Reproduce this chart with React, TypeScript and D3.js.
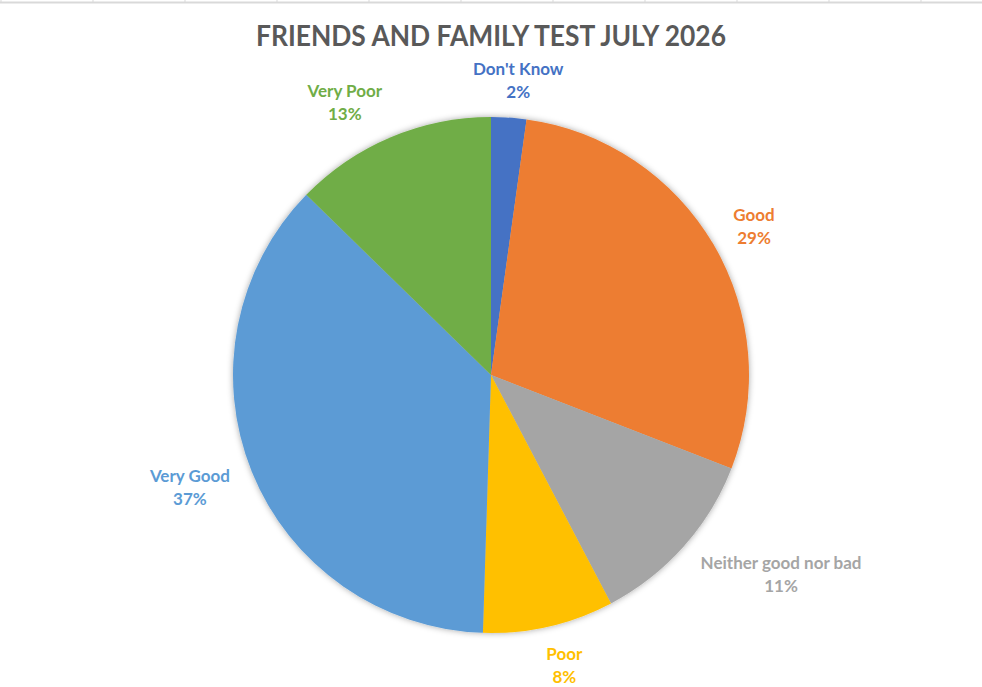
import React, { useEffect, useRef } from "react";
import * as d3 from "d3";

// slice order runs clockwise from 12 o'clock
const categories = ["Don't Know", "Good", "Neither good nor bad", "Poor", "Very Good", "Very Poor"];
const shares = [2.2, 28.7, 11.4, 8.2, 36.8, 12.7];
const sliceColors = ["#4472C4", "#ED7D31", "#A5A5A5", "#FFC000", "#5B9BD5", "#70AD47"];
const chartTitle = "FRIENDS AND FAMILY TEST JULY 2026";

const width = 982;
const height = 687;
const cx = 491;
const cy = 375;
const radius = 258;
const labelRadius = 281;
const fontStack = "Lato, 'Open Sans', 'DejaVu Sans', sans-serif";

const App: React.FC = () => {
  const svgRef = useRef<SVGSVGElement | null>(null);

  useEffect(() => {
    document.body.style.margin = "0";
    const svg = d3.select(svgRef.current).attr("width", width).attr("height", height);
    svg.selectAll("*").remove();

    svg.append("rect").attr("width", width).attr("height", height).attr("fill", "#ffffff");

    // spreadsheet cell borders peeking through at the top
    svg.append("rect").attr("x", 0).attr("y", 1.5).attr("width", width).attr("height", 2).attr("fill", "#d9d9d9");
    svg
      .append("g")
      .selectAll("line")
      .data(d3.range(1, width, 92))
      .enter()
      .append("line")
      .attr("x1", (d) => d)
      .attr("x2", (d) => d)
      .attr("y1", 0)
      .attr("y2", 2)
      .attr("stroke", "#d9d9d9");

    const defs = svg.append("defs");
    const shadow = defs
      .append("filter")
      .attr("id", "pieShadow")
      .attr("x", "-10%")
      .attr("y", "-10%")
      .attr("width", "120%")
      .attr("height", "120%");
    shadow
      .append("feDropShadow")
      .attr("dx", 0)
      .attr("dy", 0)
      .attr("stdDeviation", 3)
      .attr("flood-color", "#000")
      .attr("flood-opacity", 0.35);

    svg
      .append("text")
      .attr("x", cx)
      .attr("y", 46)
      .attr("text-anchor", "middle")
      .attr("font-family", fontStack)
      .attr("font-weight", "bold")
      .attr("font-size", 29)
      .attr("fill", "#595959")
      .attr("textLength", 470)
      .attr("lengthAdjust", "spacingAndGlyphs")
      .text(chartTitle);

    const data = categories.map((name, i) => ({ name, value: shares[i], color: sliceColors[i] }));
    const pie = d3
      .pie<{ name: string; value: number; color: string }>()
      .sort(null)
      .value((d) => d.value);
    const arcs = pie(data);
    const arc = d3
      .arc<d3.PieArcDatum<{ name: string; value: number; color: string }>>()
      .innerRadius(0)
      .outerRadius(radius);

    const g = svg.append("g").attr("transform", `translate(${cx},${cy})`);
    g.append("g")
      .attr("filter", "url(#pieShadow)")
      .selectAll("path")
      .data(arcs)
      .enter()
      .append("path")
      .attr("d", arc)
      .attr("fill", (d) => d.data.color);

    const total = d3.sum(shares);
    const labels = g
      .selectAll(".label")
      .data(arcs)
      .enter()
      .append("text")
      .attr("class", "label")
      .attr("font-family", fontStack)
      .attr("font-weight", "bold")
      .attr("font-size", 17)
      .attr("text-anchor", "middle")
      .attr("fill", (d) => d.data.color);

    labels
      .append("tspan")
      .attr("x", 0)
      .attr("dy", 0)
      .text((d) => d.data.name);
    labels
      .append("tspan")
      .attr("x", 0)
      .attr("dy", 23)
      .text((d) => `${Math.round((d.data.value / total) * 100)}%`);

    // outside-end labels: box pushed off the rim along the slice's mid angle
    labels.each(function (d) {
      const el = this as SVGTextElement;
      const hw = el.getBBox().width / 2;
      const hh = 16;
      const a = (d.startAngle + d.endAngle) / 2;
      const s = Math.sin(a);
      const c = Math.cos(a);
      const lx = labelRadius * s + hw * Math.max(-1, Math.min(1, s * 2.5));
      const ly = -labelRadius * c - hh * c;
      d3.select(el).attr("transform", `translate(${lx},${ly - 4})`);
    });
  }, []);

  return <svg ref={svgRef} style={{ display: "block" }}></svg>;
};

export default App;
